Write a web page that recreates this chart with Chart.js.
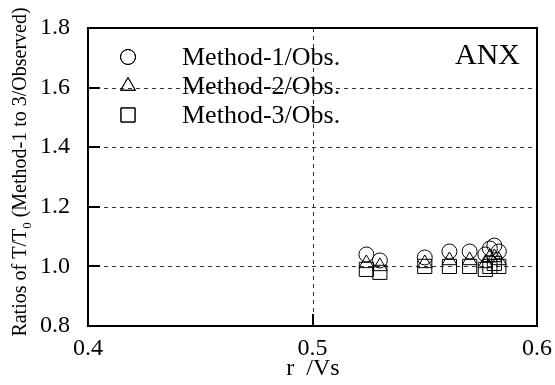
<!DOCTYPE html>
<html>
<head>
<meta charset="utf-8">
<script src="https://cdn.jsdelivr.net/npm/chart.js@4/dist/chart.umd.min.js"></script>
<style>
  body { margin: 0; background: #fff; }
  canvas { display: block; }
</style>
</head>
<body>
<canvas id="chart" width="555" height="385"></canvas>
<script>
const rVs = [0.524, 0.530, 0.550, 0.561, 0.570, 0.577, 0.579, 0.581, 0.583];
const method1 = [1.04, 1.02, 1.03, 1.05, 1.05, 1.04, 1.06, 1.07, 1.05];
const method2 = [1.01, 1.00, 1.01, 1.02, 1.02, 1.01, 1.03, 1.03, 1.02];
const method3 = [0.99, 0.98, 1.00, 1.00, 1.00, 0.99, 1.00, 1.01, 1.00];
const seriesLabels = ["Method-1/Obs.", "Method-2/Obs.", "Method-3/Obs."];
const xTicks = [0.4, 0.5, 0.6];
const yTicks = [0.8, 1.0, 1.2, 1.4, 1.6, 1.8];

const serif = "'Liberation Serif', 'Times New Roman', serif";
const styles = [
  { pointStyle: "circle", radius: 7.5 },
  { pointStyle: "triangle", radius: 8.5 },
  { pointStyle: "rect", radius: 10 },
];

const toPoints = (ys) => ys.map((y, i) => ({ x: rVs[i], y: y }));

const frame = {
  id: "frame",
  beforeDatasetsDraw(chart) {
    const { ctx, chartArea: a, scales } = chart;
    ctx.save();
    ctx.strokeStyle = "#333";
    ctx.lineWidth = 1;
    ctx.setLineDash([4, 4]);
    yTicks.slice(1, -1).forEach((v) => {
      const y = Math.round(scales.y.getPixelForValue(v)) + 0.5;
      ctx.beginPath(); ctx.moveTo(a.left, y); ctx.lineTo(a.right, y); ctx.stroke();
    });
    xTicks.slice(1, -1).forEach((v) => {
      const x = Math.round(scales.x.getPixelForValue(v)) + 0.5;
      ctx.beginPath(); ctx.moveTo(x, a.top); ctx.lineTo(x, a.bottom); ctx.stroke();
    });
    ctx.restore();
  },
  afterDraw(chart) {
    const { ctx, chartArea: a, scales } = chart;
    ctx.save();
    ctx.strokeStyle = "#000";
    ctx.lineWidth = 2;
    ctx.strokeRect(a.left, a.top, a.right - a.left, a.bottom - a.top);
    // inner ticks on left and bottom
    yTicks.forEach((v) => {
      const y = Math.round(scales.y.getPixelForValue(v));
      ctx.beginPath(); ctx.moveTo(a.left, y); ctx.lineTo(a.left + 12, y); ctx.stroke();
    });
    xTicks.forEach((v) => {
      const x = Math.round(scales.x.getPixelForValue(v));
      ctx.beginPath(); ctx.moveTo(x, a.bottom); ctx.lineTo(x, a.bottom - 12); ctx.stroke();
    });

    // legend
    const rows = [57, 86, 115];
    ctx.lineWidth = 1;
    rows.forEach((y, i) => {
      ctx.strokeStyle = "#000";
      ctx.fillStyle = "rgba(0,0,0,0)";
      Chart.helpers.drawPoint(ctx, { pointStyle: styles[i].pointStyle, radius: styles[i].radius, rotation: 0, borderWidth: 1 }, 128, y);
      ctx.stroke();
      ctx.fillStyle = "#000";
      ctx.font = "26px " + serif;
      ctx.textAlign = "left";
      ctx.textBaseline = "middle";
      ctx.fillText(seriesLabels[i], 182, y + 1);
    });

    ctx.font = "30px " + serif;
    ctx.textAlign = "right";
    ctx.textBaseline = "middle";
    ctx.fillText("ANX", a.right - 17, 56);

    // x title
    ctx.font = "24px " + serif;
    ctx.textAlign = "center";
    ctx.textBaseline = "middle";
    ctx.fillText("r  /Vs", 313, 369);

    // y title with subscript
    ctx.translate(19, 172);
    ctx.rotate(-Math.PI / 2);
    const p1 = "Ratios of T/T", sub = "0", p2 = " (Method-1 to 3/Observed)";
    ctx.font = "20px " + serif;
    const w1 = ctx.measureText(p1).width, w2 = ctx.measureText(p2).width;
    ctx.font = "13px " + serif;
    const ws = ctx.measureText(sub).width;
    let x = -(w1 + ws + w2) / 2;
    ctx.textAlign = "left";
    ctx.textBaseline = "alphabetic";
    ctx.font = "20px " + serif;
    ctx.fillText(p1, x, 7);
    x += w1;
    ctx.font = "13px " + serif;
    ctx.fillText(sub, x, 12);
    x += ws;
    ctx.font = "20px " + serif;
    ctx.fillText(p2, x, 7);
    ctx.restore();
  },
};

new Chart(document.getElementById("chart"), {
  type: "scatter",
  data: {
    datasets: [method1, method2, method3].map((ys, i) => ({
      label: seriesLabels[i],
      data: toPoints(ys),
      pointStyle: styles[i].pointStyle,
      pointRadius: styles[i].radius,
      pointHoverRadius: styles[i].radius,
      borderColor: "#000",
      backgroundColor: "rgba(0,0,0,0)",
      borderWidth: 1,
    })),
  },
  options: {
    responsive: false,
    animation: false,
    layout: { padding: { left: 0, right: 18, top: 28, bottom: 0 } },
    plugins: { legend: { display: false }, tooltip: { enabled: false } },
    scales: {
      x: {
        type: "linear",
        min: 0.4,
        max: 0.6,
        afterBuildTicks: (s) => { s.ticks = xTicks.map((v) => ({ value: v })); },
        afterFit: (s) => { s.height = 59; s.paddingLeft = 0; s.paddingRight = 0; },
        grid: { display: false },
        border: { display: false },
        ticks: {
          color: "#000",
          padding: 0,
          font: { family: serif, size: 24 },
          callback: (v) => v.toFixed(1),
        },
      },
      y: {
        type: "linear",
        min: 0.8,
        max: 1.8,
        afterBuildTicks: (s) => { s.ticks = yTicks.map((v) => ({ value: v })); },
        afterFit: (s) => { s.width = 88; s.paddingTop = 0; s.paddingBottom = 0; },
        grid: { display: false },
        border: { display: false },
        ticks: {
          color: "#000",
          padding: 10,
          font: { family: serif, size: 24 },
          callback: (v) => v.toFixed(1),
        },
      },
    },
  },
  plugins: [frame],
});
</script>
</body>
</html>
